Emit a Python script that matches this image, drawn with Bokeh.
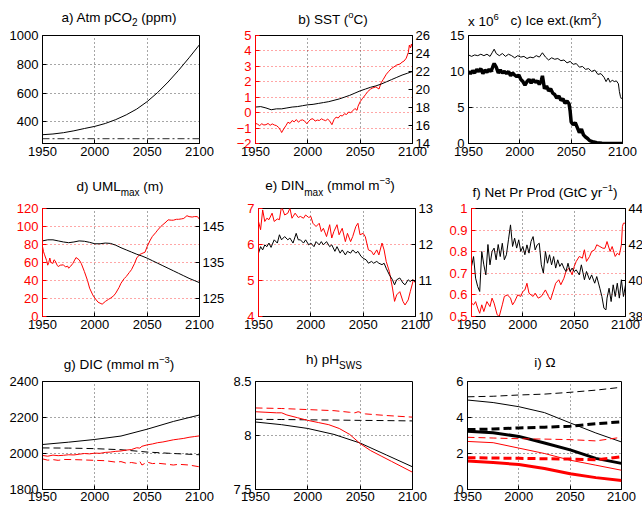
from bokeh.plotting import figure
from bokeh.models import Range1d, LinearAxis, FixedTicker, CustomJSTickFormatter, Div
from bokeh.layouts import column, row
from bokeh.embed import file_html
from bokeh.resources import INLINE

# ---------------- data ----------------
x_ticks = [1950, 2000, 2050, 2100]
x_tick_labels = ["1950", "2000", "2050", "2100"]

# a) Atm pCO2
a_years = [1950, 1960, 1970, 1980, 1990, 2000, 2010, 2020, 2030, 2040, 2050, 2060, 2070, 2080, 2090, 2100]
a_pco2 = [311, 316, 325, 338, 354, 369, 389, 416, 449, 489, 541, 604, 677, 758, 845, 936]
a_pre_years = [1950, 2100]
a_pre = [284, 284]
a_yticks = [400, 600, 800, 1000]
a_ylabels = ["400", "600", "800", "1000"]

# b) SST
b_red_years = [1950, 1952, 1954, 1956, 1958, 1960, 1962, 1964, 1966, 1968, 1970, 1972, 1974, 1975, 1977, 1979,
               1981, 1983, 1985, 1987, 1989, 1991, 1993, 1995, 1997, 1999, 2001, 2003, 2005, 2007, 2009, 2011,
               2013, 2015, 2017, 2019, 2021, 2023, 2025, 2027, 2029, 2031, 2033, 2035, 2037, 2039, 2041, 2043,
               2045, 2047, 2048, 2050, 2052, 2055, 2057, 2060, 2062, 2065, 2068, 2070, 2072, 2075, 2077, 2080,
               2082, 2085, 2088, 2090, 2092, 2094, 2096, 2097, 2098, 2099, 2100]
b_red = [-0.69, -0.75, -0.84, -0.72, -0.80, -0.78, -0.70, -0.82, -0.73, -0.80, -0.84, -0.95, -1.15, -1.29, -1.05, -0.85,
         -0.62, -0.70, -0.51, -0.60, -0.45, -0.62, -0.50, -0.47, -0.55, -0.72, -0.55, -0.42, -0.40, -0.55, -0.48, -0.51,
         -0.40, -0.47, -0.52, -0.42, -0.55, -0.78, -0.45, -0.29, -0.35, -0.18, -0.22, -0.07, -0.12, 0.04, 0.00, 0.12,
         0.27, 0.15, 0.42, 0.71, 0.90, 1.16, 1.35, 1.53, 1.60, 1.67, 1.53, 1.93, 2.15, 2.49, 2.65, 2.87,
         2.95, 3.09, 3.15, 3.27, 3.35, 3.53, 3.90, 4.38, 4.20, 4.45, 4.20]
b_blk_years = [1950, 1955, 1960, 1965, 1970, 1975, 1980, 1985, 1990, 1995, 2000, 2005, 2010, 2015, 2020, 2025,
               2030, 2035, 2040, 2045, 2050, 2055, 2060, 2065, 2070, 2075, 2080, 2085, 2090, 2095, 2100]
b_blk = [18.05, 18.10, 17.95, 17.75, 17.85, 17.85, 17.95, 18.05, 18.10, 18.20, 18.30, 18.35, 18.45, 18.55, 18.65, 18.80,
         18.95, 19.15, 19.35, 19.60, 19.85, 20.05, 20.25, 20.40, 20.60, 20.85, 21.10, 21.35, 21.60, 21.80, 22.00]
b_lticks = [-2, -1, 0, 1, 2, 3, 4, 5]
b_llabels = ["\u22122", "\u22121", "0", "1", "2", "3", "4", "5"]
b_rticks = [14, 16, 18, 20, 22, 24, 26]
b_rlabels = ["14", "16", "18", "20", "22", "24", "26"]

# c) Ice extent (x 10^6 km2)
c_thin_years = [1950, 1953, 1956, 1959, 1962, 1965, 1968, 1971, 1973, 1975, 1977, 1980, 1983, 1986, 1989, 1992,
                1995, 1998, 2001, 2004, 2007, 2010, 2013, 2016, 2019, 2022, 2025, 2028, 2031, 2034, 2037, 2040,
                2043, 2046, 2049, 2052, 2055, 2058, 2061, 2064, 2067, 2070, 2073, 2076, 2079, 2082, 2084, 2086,
                2088, 2090, 2092, 2094, 2096, 2097, 2098, 2099]
c_thin = [12.3, 12.1, 12.3, 12.2, 12.4, 12.2, 12.4, 12.1, 12.6, 13.1, 12.5, 12.2, 12.5, 12.1, 12.4, 12.2,
          11.9, 12.2, 12.0, 12.1, 11.8, 12.0, 11.9, 12.2, 12.0, 12.6, 12.0, 11.6, 11.9, 11.7, 11.8, 11.5,
          11.6, 11.2, 11.4, 11.0, 11.1, 10.6, 10.7, 10.3, 10.4, 10.0, 10.2, 9.6, 9.7, 9.2, 8.6, 9.1,
          8.5, 8.8, 8.6, 8.7, 8.3, 7.2, 6.5, 6.2]
c_thick_years = [1950, 1952, 1954, 1956, 1958, 1960, 1962, 1964, 1966, 1968, 1970, 1972, 1974, 1975, 1977, 1979,
                 1981, 1983, 1985, 1987, 1989, 1991, 1993, 1995, 1997, 1999, 2001, 2003, 2005, 2007, 2009, 2011,
                 2013, 2015, 2017, 2019, 2021, 2022, 2024, 2026, 2028, 2030, 2032, 2034, 2036, 2038, 2040, 2042,
                 2044, 2046, 2048, 2049, 2050, 2052, 2054, 2056, 2058, 2060, 2062, 2064, 2066, 2068, 2070, 2072,
                 2075, 2080, 2090, 2100]
c_thick = [10.0, 9.7, 10.1, 9.8, 10.3, 10.0, 10.4, 9.7, 10.2, 9.9, 10.3, 10.0, 10.8, 11.1, 10.6, 9.8,
           10.2, 9.8, 10.0, 9.7, 10.0, 9.4, 9.8, 9.5, 9.3, 9.5, 8.9, 8.6, 8.1, 8.6, 8.9, 8.4,
           8.9, 8.5, 8.7, 8.2, 8.8, 9.4, 7.6, 8.0, 7.3, 7.6, 7.0, 6.8, 6.3, 6.6, 6.0, 6.2,
           5.6, 5.9, 5.5, 4.5, 3.0, 2.6, 2.9, 2.2, 1.5, 2.0, 1.2, 0.9, 0.7, 0.4, 0.3, 0.2,
           0.1, 0.03, 0.0, 0.0]
c_yticks = [0, 5, 10, 15]
c_ylabels = ["0", "5", "10", "15"]

# d) UML max
d_red_years = [1950, 1951, 1952, 1954, 1955, 1956, 1957, 1958, 1960, 1961, 1962, 1964, 1965, 1967, 1970, 1972,
               1974, 1975, 1977, 1979, 1982, 1985, 1987, 1990, 1993, 1995, 1998, 2000, 2003, 2005, 2007, 2010,
               2013, 2015, 2018, 2020, 2023, 2025, 2028, 2030, 2033, 2035, 2038, 2040, 2043, 2045, 2048, 2050,
               2053, 2055, 2058, 2060, 2063, 2065, 2068, 2070, 2073, 2075, 2078, 2080, 2083, 2085, 2087, 2088,
               2090, 2093, 2095, 2098, 2100]
d_red = [77.8, 72, 68.5, 62, 57, 60, 65, 60, 59, 63, 62, 57, 55.5, 57, 57.4, 55,
         56, 53.7, 56, 59, 65.5, 63, 59, 50, 40, 31.5, 24, 20.4, 16, 14.8, 13.7, 16.7,
         19, 20.4, 23, 26, 32, 37, 42, 44.4, 49, 52, 59, 65, 69, 70, 71.5, 77.8,
         85, 89, 93, 96, 100, 102, 105, 107.4, 107, 107, 108, 108, 108.5, 109, 111, 112,
         111, 110.5, 111, 111, 108]
d_blk_years = [1950, 1955, 1960, 1965, 1970, 1975, 1980, 1985, 1990, 1995, 2000, 2005, 2010, 2015, 2020, 2025,
               2030, 2035, 2040, 2045, 2050, 2055, 2060, 2065, 2070, 2075, 2080, 2085, 2090, 2095, 2100]
d_blk = [141.0, 141.3, 141.3, 141.0, 140.7, 140.5, 140.7, 141.0, 140.9, 140.6, 140.2, 140.2, 140.4, 140.3, 139.8, 139.1,
         138.5, 137.9, 137.3, 136.8, 136.2, 135.5, 134.8, 134.1, 133.4, 132.7, 132.0, 131.3, 130.6, 130.0, 129.4]
d_lticks = [0, 20, 40, 60, 80, 100, 120]
d_llabels = ["0", "20", "40", "60", "80", "100", "120"]
d_rticks = [125, 135, 145]
d_rlabels = ["125", "135", "145"]

# e) DIN max
e_red_years = [1950, 1952, 1954, 1956, 1958, 1960, 1963, 1965, 1968, 1970, 1972, 1975, 1978, 1980, 1982, 1985,
               1988, 1990, 1993, 1995, 1998, 2000, 2002, 2005, 2008, 2010, 2012, 2015, 2018, 2020, 2022, 2025,
               2027, 2030, 2033, 2035, 2038, 2040, 2043, 2045, 2047, 2050, 2052, 2055, 2058, 2060, 2063, 2065,
               2068, 2070, 2072, 2075, 2078, 2080, 2082, 2085, 2088, 2090, 2093, 2095, 2098, 2100]
e_red = [6.64, 6.41, 6.96, 6.64, 6.73, 6.69, 6.87, 6.64, 6.71, 6.69, 7.06, 6.82, 6.87, 7.01, 6.73, 6.87,
         6.75, 6.78, 6.73, 6.82, 6.75, 6.78, 6.59, 6.50, 6.59, 6.36, 6.45, 6.22, 6.55, 6.18, 6.36, 6.55,
         6.27, 6.45, 6.08, 6.31, 6.08, 6.22, 6.50, 6.59, 6.27, 6.31, 6.22, 5.85, 5.81, 5.71, 5.85, 5.71,
         6.04, 5.85, 5.53, 5.25, 4.79, 4.42, 4.60, 4.69, 4.42, 4.32, 4.46, 4.69, 5.02, 4.93]
e_blk_years = [1950, 1952, 1954, 1956, 1958, 1960, 1962, 1965, 1968, 1970, 1972, 1975, 1978, 1980, 1983, 1986,
               1988, 1990, 1993, 1995, 1998, 2000, 2003, 2005, 2008, 2010, 2012, 2015, 2018, 2020, 2023, 2025,
               2028, 2030, 2033, 2035, 2038, 2040, 2043, 2045, 2048, 2050, 2053, 2055, 2058, 2060, 2063, 2065,
               2068, 2070, 2072, 2075, 2078, 2080, 2082, 2085, 2088, 2090, 2093, 2095, 2097, 2100]
e_blk = [11.76, 11.94, 11.85, 11.99, 11.94, 12.04, 11.92, 12.13, 12.04, 12.27, 12.13, 12.22, 12.13, 12.18, 12.04, 12.31,
         12.13, 12.13, 12.04, 12.13, 11.99, 12.04, 11.94, 12.08, 11.99, 12.08, 11.99, 12.08, 11.94, 11.99, 11.81, 11.94,
         11.76, 11.85, 11.71, 11.81, 11.76, 11.85, 11.76, 11.81, 11.67, 11.62, 11.57, 11.48, 11.53, 11.48, 11.53, 11.48,
         11.44, 11.48, 11.34, 11.16, 11.02, 10.88, 11.02, 11.07, 10.93, 10.88, 11.02, 10.97, 11.02, 10.97]
e_lticks = [4, 5, 6, 7]
e_llabels = ["4", "5", "6", "7"]
e_rticks = [10, 11, 12, 13]
e_rlabels = ["10", "11", "12", "13"]

# f) Net primary production
f_blk_years = [1950, 1952, 1954, 1956, 1958, 1960, 1962, 1964, 1966, 1968, 1970, 1972, 1974, 1976, 1978, 1980,
               1982, 1984, 1986, 1988, 1990, 1992, 1994, 1996, 1998, 2000, 2002, 2004, 2006, 2008, 2010, 2012,
               2014, 2016, 2018, 2020, 2022, 2024, 2026, 2028, 2030, 2032, 2034, 2036, 2038, 2040, 2042, 2044,
               2046, 2048, 2050, 2052, 2055, 2057, 2060, 2062, 2065, 2067, 2070, 2072, 2075, 2077, 2079, 2081,
               2082, 2084, 2086, 2088, 2090, 2092, 2094, 2096, 2098, 2100]
f_blk = [40.78, 41.33, 40.13, 39.67, 39.39, 41.61, 40.87, 40.31, 42.00, 40.87, 41.61, 41.80, 41.15, 42.00, 41.33, 42.07,
         41.15, 41.43, 42.26, 43.09, 41.89, 42.35, 41.80, 42.26, 41.61, 41.89, 41.43, 41.98, 41.52, 42.17, 42.44, 41.70,
         41.98, 42.07, 40.87, 40.41, 41.61, 40.96, 41.43, 40.87, 41.33, 40.69, 41.15, 40.78, 40.96, 40.69, 40.50, 40.96,
         40.50, 40.69, 40.50, 40.59, 40.31, 40.87, 40.04, 40.50, 40.04, 40.31, 39.85, 40.22, 39.57, 39.11, 38.46, 38.37,
         39.02, 39.57, 38.83, 39.76, 39.11, 39.85, 39.02, 40.04, 39.11, 39.76]
f_red_years = [1950, 1952, 1954, 1956, 1958, 1960, 1962, 1965, 1968, 1970, 1972, 1975, 1977, 1980, 1982, 1985,
               1988, 1990, 1992, 1995, 1998, 2000, 2002, 2004, 2006, 2008, 2010, 2012, 2015, 2018, 2020, 2022,
               2025, 2027, 2030, 2032, 2035, 2037, 2040, 2042, 2045, 2048, 2050, 2052, 2055, 2058, 2060, 2062,
               2065, 2067, 2070, 2072, 2075, 2078, 2080, 2082, 2085, 2087, 2090, 2092, 2094, 2096, 2097, 2098, 2100]
f_red = [0.562, 0.554, 0.569, 0.539, 0.515, 0.554, 0.523, 0.569, 0.546, 0.585, 0.562, 0.508, 0.500, 0.554, 0.593, 0.600,
         0.585, 0.554, 0.569, 0.600, 0.593, 0.616, 0.623, 0.654, 0.608, 0.600, 0.593, 0.608, 0.585, 0.593, 0.608, 0.623,
         0.593, 0.577, 0.623, 0.654, 0.670, 0.647, 0.677, 0.708, 0.724, 0.693, 0.731, 0.755, 0.778, 0.770, 0.809, 0.755,
         0.778, 0.801, 0.809, 0.832, 0.824, 0.816, 0.816, 0.847, 0.801, 0.824, 0.778, 0.793, 0.785, 0.832, 0.917, 0.932, 0.932]
f_lticks = [0.5, 0.6, 0.7, 0.8, 0.9, 1.0]
f_llabels = ["0.5", "0.6", "0.7", "0.8", "0.9", "1"]
f_rticks = [38, 40, 42, 44]
f_rlabels = ["38", "40", "42", "44"]

# g) DIC
g_years = [1950, 1975, 2000, 2025, 2050, 2075, 2100]
g_blk = [2050, 2063, 2078, 2097, 2135, 2178, 2214]
g_blk_dash = [2031, 2030, 2027, 2021, 2008, 2000, 1993]
g_red_years = [1950, 1955, 1960, 1965, 1970, 1975, 1980, 1985, 1990, 1995, 2000, 2005, 2010, 2015, 2020, 2025,
               2030, 2035, 2040, 2043, 2045, 2050, 2055, 2060, 2065, 2070, 2075, 2080, 2085, 2090, 2095, 2100]
g_red = [1989, 1985, 1991, 1988, 1990, 1993, 1992, 1996, 2000, 1998, 2002, 2001, 2006, 2008, 2012, 2014,
         2019, 2022, 2032, 2030, 2040, 2048, 2053, 2060, 2064, 2070, 2076, 2080, 2084, 2090, 2094, 2098]
g_red_dash_years = [1950, 1955, 1960, 1965, 1970, 1980, 1990, 2000, 2010, 2020, 2025, 2030, 2035, 2040, 2043, 2045,
                    2050, 2055, 2060, 2070, 2075, 2080, 2090, 2100]
g_red_dash = [1970, 1963, 1966, 1962, 1967, 1966, 1964, 1962, 1960, 1952, 1955, 1946, 1950, 1945, 1956, 1936,
              1952, 1944, 1946, 1940, 1936, 1940, 1936, 1926]
g_yticks = [1800, 2000, 2200, 2400]
g_ylabels = ["1800", "2000", "2200", "2400"]

# h) pH SWS
h_years = [1950, 1975, 2000, 2025, 2050, 2075, 2100]
h_blk = [8.125, 8.10, 8.065, 8.01, 7.93, 7.82, 7.71]
h_blk_dash = [8.15, 8.148, 8.145, 8.143, 8.14, 8.138, 8.135]
h_red_years = [1950, 1960, 1970, 1975, 1980, 1990, 2000, 2010, 2020, 2030, 2040, 2050, 2060, 2070, 2080, 2090, 2100]
h_red = [8.22, 8.215, 8.21, 8.21, 8.19, 8.165, 8.14, 8.12, 8.10, 8.065, 8.01, 7.925, 7.86, 7.81, 7.76, 7.71, 7.66]
h_red_dash_years = [1950, 1975, 2000, 2025, 2040, 2045, 2048, 2050, 2055, 2075, 2100]
h_red_dash = [8.255, 8.25, 8.24, 8.23, 8.215, 8.21, 8.22, 8.215, 8.20, 8.185, 8.17]
h_yticks = [7.5, 8, 8.5]
h_ylabels = ["7.5", "8", "8.5"]

# i) Omega
i_years = [1950, 1975, 2000, 2025, 2050, 2075, 2100]
i_blk_thin_dash = [5.15, 5.18, 5.25, 5.30, 5.40, 5.52, 5.68]
i_blk_thin = [4.97, 4.83, 4.60, 4.27, 3.70, 3.14, 2.64]
i_blk_thick_dash = [3.33, 3.36, 3.42, 3.46, 3.52, 3.65, 3.76]
i_blk_thick = [3.23, 3.15, 2.95, 2.58, 2.20, 1.73, 1.45]
i_red_thin_dash = [2.90, 2.86, 2.82, 2.80, 2.77, 2.70, 2.90]
i_red_thin = [2.67, 2.60, 2.30, 2.00, 1.63, 1.35, 1.07]
i_red_thick_dash = [1.77, 1.75, 1.73, 1.71, 1.69, 1.65, 1.82]
i_red_thick = [1.58, 1.50, 1.39, 1.17, 0.88, 0.66, 0.50]
i_yticks = [0, 2, 4, 6]
i_ylabels = ["0", "2", "4", "6"]

# panel titles (HTML so that sub/superscripts stay real text)
SUB = '<span style="font-size:10px;position:relative;top:{d}px;">{t}</span>'
SUP = '<span style="font-size:9.5px;position:relative;top:-{d}px;">{t}</span>'
title_a = "a) Atm pCO" + SUB.format(d=4, t="2") + " (ppm)"
title_b = "b) SST (" + SUP.format(d=6, t="o") + "C)"
title_c = "c) Ice ext.(km" + SUP.format(d=6, t="2") + ")"
exp_c = "x 10" + SUP.format(d=6, t="6")
title_d = "d) UML" + SUB.format(d=5, t="max") + " (m)"
title_e = "e) DIN" + SUB.format(d=6, t="max") + " (mmol m" + SUP.format(d=6, t="\u22123") + ")"
title_f = "f) Net Pr Prod (GtC yr" + SUP.format(d=6, t="\u22121") + ")"
title_g = "g) DIC (mmol m" + SUP.format(d=6, t="\u22123") + ")"
title_h = "h) pH" + SUB.format(d=5, t="SWS")
title_i = "i) \u03a9"

# ---------------- styling helpers ----------------
FONT = "Liberation Sans"
FW, FW3, FH = 157, 154, 108
RED = "#ff0000"
BLK = "#000000"
TITLE_H = 28
FIG_T = 7


def fmt(ticks, labels):
    return CustomJSTickFormatter(args=dict(t=list(ticks), l=list(labels)),
                                 code="for (let k = 0; k < t.length; k++) { if (Math.abs(t[k] - tick) < 1e-9) return l[k]; } return '';")


def style_axis(ax, color, standoff):
    ax.axis_line_color = color
    ax.major_tick_line_color = color
    ax.major_label_text_color = color
    ax.minor_tick_line_color = None
    ax.major_tick_in = 4
    ax.major_tick_out = 0
    ax.major_label_text_font = FONT
    ax.major_label_text_font_size = "13px"
    ax.major_label_text_font_style = "normal"
    ax.major_label_standoff = standoff


def panel(yr, yt, yl, lb, rb, bb, fw=FW, left_color=BLK, grid_color=BLK, xstand=3):
    p = figure(frame_width=fw, frame_height=FH, x_range=Range1d(1950, 2100), y_range=Range1d(*yr),
               output_backend="svg", toolbar_location=None, min_border_left=lb, min_border_right=rb,
               min_border_top=FIG_T, min_border_bottom=bb)
    p.outline_line_color = BLK
    p.background_fill_color = "white"
    p.border_fill_color = "white"
    xt = FixedTicker(ticks=x_ticks)
    ytk = FixedTicker(ticks=yt)
    p.xaxis.ticker = xt
    p.xgrid.ticker = xt
    p.yaxis.ticker = ytk
    p.ygrid.ticker = ytk
    p.xaxis.formatter = fmt(x_ticks, x_tick_labels)
    p.yaxis.formatter = fmt(yt, yl)
    style_axis(p.xaxis[0], BLK, xstand)
    style_axis(p.yaxis[0], left_color, 4)
    p.xgrid.grid_line_color = BLK
    p.xgrid.grid_line_dash = "1 3"
    p.xgrid.grid_line_alpha = 0.7
    p.ygrid.grid_line_color = grid_color
    p.ygrid.grid_line_dash = "1 3"
    p.ygrid.grid_line_alpha = 0.7
    return p


def add_right(p, rr, rt, rl, standoff=3):
    p.extra_y_ranges = {"r": Range1d(*rr)}
    ax = LinearAxis(y_range_name="r", ticker=FixedTicker(ticks=rt), formatter=fmt(rt, rl))
    style_axis(ax, BLK, standoff)
    p.add_layout(ax, "right")


def title_row(items):
    # items: (html, center_x or None, left_x, rise above frame top)
    blocks = []
    frame_top = TITLE_H + FIG_T
    for html, cx, lx, rise in items:
        top = frame_top - rise - 12.2
        if cx is not None:
            w = 2 * min(100, cx, 642 - cx)
            left = cx - w / 2
            blocks.append(f'<div style="position:absolute;left:{left:.1f}px;top:{top:.1f}px;width:{w:.1f}px;'
                          f'text-align:center;">{html}</div>')
        else:
            blocks.append(f'<div style="position:absolute;left:{lx}px;top:{top:.1f}px;">{html}</div>')
    inner = ("<div style=\"position:relative;width:642px;height:%dpx;font-family:'Liberation Sans',Arial,sans-serif;"
             "font-size:13.5px;line-height:15px;color:#000;white-space:nowrap;overflow:hidden;\">%s</div>"
             % (TITLE_H, "".join(blocks)))
    return Div(text=inner, width=642, height=TITLE_H, margin=(0, 0, 0, 0))


# ---------------- panels ----------------
# row 1
pa = panel((250, 1000), a_yticks, a_ylabels, lb=42, rb=15, bb=30)
pa.line(a_years, a_pco2, line_color=BLK, line_width=1)
pa.line(a_pre_years, a_pre, line_color="#555555", line_width=1.2, line_dash="7 3 2 3")

pb = panel((-2, 5), b_lticks, b_llabels, lb=41, rb=19, bb=30, left_color=RED, grid_color=RED)
add_right(pb, (14, 26), b_rticks, b_rlabels)
pb.line(b_red_years, b_red, line_color=RED, line_width=1)
pb.line(b_blk_years, b_blk, line_color=BLK, line_width=1, y_range_name="r")

pc = panel((0, 15), c_yticks, c_ylabels, lb=36, rb=21, bb=30, fw=FW3)
pc.line(c_thin_years, c_thin, line_color=BLK, line_width=1)
pc.line(c_thick_years, c_thick, line_color=BLK, line_width=3.5)

# row 2
pd_ = panel((0, 120), d_lticks, d_llabels, lb=42, rb=25, bb=30, left_color=RED, grid_color=RED)
add_right(pd_, (120, 150), d_rticks, d_rlabels)
pd_.line(d_red_years, d_red, line_color=RED, line_width=1)
pd_.line(d_blk_years, d_blk, line_color=BLK, line_width=1, y_range_name="r")

pe = panel((4, 7), e_lticks, e_llabels, lb=31, rb=19, bb=30, left_color=RED, grid_color=RED)
add_right(pe, (10, 13), e_rticks, e_rlabels)
pe.line(e_red_years, e_red, line_color=RED, line_width=1)
pe.line(e_blk_years, e_blk, line_color=BLK, line_width=1, y_range_name="r")

pf = panel((0.5, 1.0), f_lticks, f_llabels, lb=36, rb=21, bb=30, fw=FW3, left_color=RED, grid_color=RED)
add_right(pf, (38, 44), f_rticks, f_rlabels, standoff=3)
pf.line(f_red_years, f_red, line_color=RED, line_width=1)
pf.line(f_blk_years, f_blk, line_color=BLK, line_width=1, y_range_name="r")

# row 3
pg = panel((1800, 2400), g_yticks, g_ylabels, lb=42, rb=15, bb=18, xstand=2)
pg.line(g_years, g_blk, line_color=BLK, line_width=1)
pg.line(g_years, g_blk_dash, line_color=BLK, line_width=1, line_dash="7 4")
pg.line(g_red_years, g_red, line_color=RED, line_width=1)
pg.line(g_red_dash_years, g_red_dash, line_color=RED, line_width=1, line_dash="7 4")

ph = panel((7.5, 8.5), h_yticks, h_ylabels, lb=41, rb=19, bb=18, xstand=2)
ph.line(h_years, h_blk, line_color=BLK, line_width=1)
ph.line(h_years, h_blk_dash, line_color=BLK, line_width=1, line_dash="7 4")
ph.line(h_red_years, h_red, line_color=RED, line_width=1)
ph.line(h_red_dash_years, h_red_dash, line_color=RED, line_width=1, line_dash="7 4")

pi = panel((0, 6), i_yticks, i_ylabels, lb=36, rb=21, bb=18, fw=FW3, xstand=2)
pi.line(i_years, i_blk_thin_dash, line_color=BLK, line_width=1, line_dash="7 4")
pi.line(i_years, i_blk_thin, line_color=BLK, line_width=1)
pi.line(i_years, i_blk_thick_dash, line_color=BLK, line_width=3, line_dash="8 4")
pi.line(i_years, i_blk_thick, line_color=BLK, line_width=3)
pi.line(i_years, i_red_thin_dash, line_color=RED, line_width=1, line_dash="7 4")
pi.line(i_years, i_red_thin, line_color=RED, line_width=1)
pi.line(i_years, i_red_thick_dash, line_color=RED, line_width=3, line_dash="8 4")
pi.line(i_years, i_red_thick, line_color=RED, line_width=3)

t1 = title_row([(title_a, 119, None, 13), (title_b, 333, None, 10.5), (title_c, 556, None, 10),
                (exp_c, None, 468, 9)])
t2 = title_row([(title_d, 120, None, 17), (title_e, 330, None, 17.5), (title_f, 545, None, 10.5)])
t3 = title_row([(title_g, 119, None, 12), (title_h, 334, None, 17), (title_i, 545, None, 14)])

layout = column(t1, row(pa, pb, pc), t2, row(pd_, pe, pf), t3, row(pg, ph, pi))
open("out.html", "w").write(file_html(layout, INLINE))
